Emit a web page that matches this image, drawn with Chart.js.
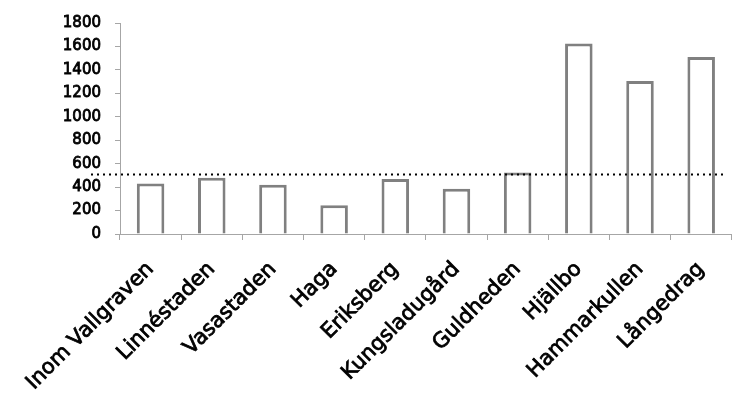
<!DOCTYPE html>
<html lang="sv">
<head>
<meta charset="utf-8">
<title>Stadsdelar</title>
<script src="https://cdn.jsdelivr.net/npm/chart.js@4/dist/chart.umd.min.js"></script>
<style>
  html, body { margin: 0; padding: 0; background: #ffffff; }
  #graphique { width: 736px; height: 399px; }
</style>
</head>
<body>
<div id="graphique"><canvas id="myChartStadsdelar" width="736" height="399"></canvas></div>
<script>
//? Données du graphique.

const stadsdelar = [
  "Inom Vallgraven",
  "Linnéstaden",
  "Vasastaden",
  "Haga",
  "Eriksberg",
  "Kungsladugård",
  "Guldheden",
  "Hjällbo",
  "Hammarkullen",
  "Långedrag",
];

const valeursStadsdelar = [430, 480, 420, 245, 470, 385, 525, 1625, 1305, 1510];

//? Ligne pointillée de référence (moyenne).
const valeurReference = 515;

const ticksAxeY = [0, 200, 400, 600, 800, 1000, 1200, 1400, 1600, 1800];

//? -------------------------------------------------

//? Plugin : ligne pointillée horizontale.

const ligneReference = {
  id: "ligneReference",
  afterDatasetsDraw(chart) {
    const { ctx, chartArea, scales } = chart;
    const y = Math.round(scales.y.getPixelForValue(valeurReference)) + 0.5;
    ctx.save();
    ctx.strokeStyle = "#000000";
    ctx.lineWidth = 2;
    ctx.setLineDash([2, 4]);
    ctx.beginPath();
    ctx.moveTo(chartArea.left - 29, y);
    ctx.lineTo(chartArea.right - 6, y);
    ctx.stroke();
    ctx.restore();
  },
};

//? -------------------------------------------------

//? Construction du graphique.

const constructionDuGraphique = () => {
  try {
    const ctx = document.getElementById("myChartStadsdelar").getContext("2d");

    const data = {
      labels: stadsdelar,
      datasets: [
        {
          data: valeursStadsdelar,
          backgroundColor: "#ffffff",
          borderColor: "#808080",
          borderWidth: 3,
          barPercentage: 0.45,
          categoryPercentage: 1,
        },
      ],
    };

    const options = {
      responsive: false,
      animation: false,
      layout: { padding: { top: 21, right: 0, left: 0, bottom: 0 } },
      plugins: {
        legend: { display: false },
        tooltip: { enabled: false },
      },
      scales: {
        x: {
          grid: {
            offset: true,
            drawOnChartArea: false,
            color: "#a6a6a6",
            tickLength: 6,
          },
          border: { color: "#a6a6a6", width: 1 },
          ticks: {
            color: "#000000",
            font: { family: "DejaVu Sans", size: 21 },
            textStrokeColor: "#000000",
            textStrokeWidth: 0.8,
            minRotation: 45,
            maxRotation: 45,
            autoSkip: false,
            padding: 17,
          },
          afterFit: (scale) => {
            scale.height = 165;
          },
        },
        y: {
          min: 0,
          max: 1800,
          afterBuildTicks: (scale) => {
            scale.ticks = ticksAxeY.map((v) => ({ value: v }));
          },
          grid: {
            drawOnChartArea: false,
            color: "#a6a6a6",
            tickLength: 5,
          },
          border: { color: "#a6a6a6", width: 1 },
          ticks: {
            color: "#000000",
            font: { family: "DejaVu Sans", size: 15 },
            textStrokeColor: "#000000",
            textStrokeWidth: 0.8,
            padding: 14,
            callback: (v) => String(v),
          },
          afterFit: (scale) => {
            scale.width = 120;
          },
        },
      },
    };

    new Chart(ctx, {
      type: "bar",
      data,
      options,
      plugins: [ligneReference],
    });
  } catch (error) {
    console.log("🔴 ERREUR | Construction graphique :", error);
  }
};

constructionDuGraphique();
</script>
</body>
</html>
